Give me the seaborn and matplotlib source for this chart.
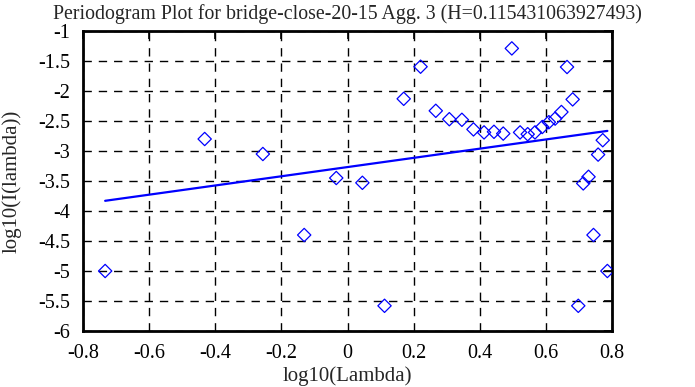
import matplotlib
matplotlib.use("Agg")
import matplotlib.pyplot as plt
import seaborn as sns
import pandas as pd

log_lambda = [-0.733, -0.432, -0.256, -0.131, -0.034, 0.045, 0.112, 0.170, 0.221,
              0.267, 0.308, 0.346, 0.381, 0.413, 0.443, 0.471, 0.497, 0.522, 0.545,
              0.567, 0.589, 0.609, 0.628, 0.647, 0.664, 0.681, 0.698, 0.713, 0.729,
              0.744, 0.758, 0.772, 0.786]
log_I = [-5.0, -2.8, -3.05, -4.4, -3.45, -3.53, -5.58, -2.13, -1.595,
         -2.33, -2.47, -2.48, -2.64, -2.69, -2.68, -2.71, -1.29, -2.69, -2.72,
         -2.69, -2.6, -2.52, -2.46, -2.35, -1.6, -2.14, -5.58, -3.54, -3.43,
         -4.40, -3.06, -2.82, -5.0]
fit_x = [-0.733, 0.786]
fit_y = [-3.83, -2.665]

x_ticks = [-0.8, -0.6, -0.4, -0.2, 0, 0.2, 0.4, 0.6, 0.8]
x_tick_labels = ["-0.8", "-0.6", "-0.4", "-0.2", "0", "0.2", "0.4", "0.6", "0.8"]
y_ticks = [-6, -5.5, -5, -4.5, -4, -3.5, -3, -2.5, -2, -1.5, -1]
y_tick_labels = ["-6", "-5.5", "-5", "-4.5", "-4", "-3.5", "-3", "-2.5", "-2", "-1.5", "-1"]

sns.set_style("white")
plt.rcParams['font.family'] = ['Liberation Serif', 'DejaVu Serif']

fig = plt.figure(figsize=(6.95, 3.87), dpi=100)
ax = fig.add_axes([83/695, 1-331/387, (612-83)/695, 300/387])

pts = pd.DataFrame({"x": log_lambda, "y": log_I})
fit = pd.DataFrame({"x": fit_x, "y": fit_y})

sns.lineplot(data=fit, x="x", y="y", ax=ax, color="#0000ff", lw=1.6, zorder=3)
sns.scatterplot(data=pts, x="x", y="y", ax=ax, marker="D", s=46,
                facecolor="none", edgecolor="#0000ff", linewidth=0.9, zorder=4)

ax.set_xlim(-0.8, 0.8)
ax.set_ylim(-6, -1)
ax.set_xticks(x_ticks)
ax.set_xticklabels(x_tick_labels)
ax.set_yticks(y_ticks)
ax.set_yticklabels(y_tick_labels)
ax.tick_params(direction="in", length=6, width=1.2, top=True, right=True,
               labelsize=14.5, colors="black")
ax.tick_params(axis="x", pad=9)
ax.tick_params(axis="y", pad=9)
ax.grid(True, color="black", linestyle=(0, (6, 5)), linewidth=1.0)
for sp in ax.spines.values():
    sp.set_visible(True)
    sp.set_color("black")
    sp.set_linewidth(2)
ax.set_xlabel("log10(Lambda)", fontsize=15, labelpad=3)
ax.set_ylabel("log10(I(lambda))", fontsize=15, labelpad=12)
ax.set_title("Periodogram Plot for bridge-close-20-15 Agg. 3 (H=0.115431063927493)",
             fontsize=14.3, pad=9)

fig.savefig("out.png", dpi=100)
